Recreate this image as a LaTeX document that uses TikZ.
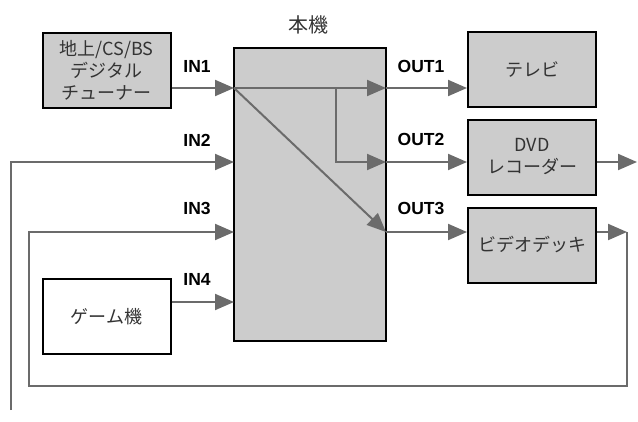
\documentclass[tikz,border=0pt]{standalone}
\usepackage{fontspec}
\setmainfont{Noto Sans CJK JP}
\newfontfamily\labfont{Liberation Sans}
\usepackage{tikz}
\usetikzlibrary{arrows.meta,positioning,calc}
\definecolor{boxgray}{HTML}{CCCCCC}
\definecolor{wire}{HTML}{6B6B6B}
\definecolor{ink}{HTML}{333333}

\begin{document}
\begin{tikzpicture}[
  x=1pt,y=-1pt,
  font=\fontsize{18}{22}\selectfont,
  dev/.style={draw=black,line width=2pt,fill=boxgray,text=ink,align=center,inner sep=0pt,minimum width=128pt,minimum height=75pt},
  ext/.style={dev,fill=white},
  unit/.style={draw=black,line width=2pt,fill=boxgray,inner sep=0pt,minimum width=152pt,minimum height=293pt},
  lab/.style={font=\labfont\bfseries\fontsize{17.5}{20}\selectfont,inner sep=0pt},
  sig/.style={-{Triangle[length=19pt,width=16pt]},draw=wire,line width=2pt}
]
\useasboundingbox (0,0) rectangle (638,421);
\node[unit] (main) at (310,194.5) {};
\node[text=ink,font=\fontsize{20}{24}\selectfont,inner sep=0pt] (title) at (308,25) {本機};
\node[dev] (tuner) at (106.5,70) {地上/CS/BS\\デジタル\\チューナー};
\node[ext] (game) at (106.5,316.5) {ゲーム機};
\node[dev] (tv) at (532,69.5) {テレビ};
\node[dev] (dvd) at (532,157) {DVD\\レコーダー};
\node[dev] (vcr) at (532,245) {ビデオデッキ};
% inputs and outputs on the unit
\coordinate (i1) at (234,88);
\coordinate (i2) at (234,162);
\coordinate (i3) at (234,232);
\coordinate (i4) at (234,302);
\coordinate (o1) at (386,88);
\coordinate (o2) at (386,162);
\coordinate (o3) at (386,232);
\coordinate (split) at (336,88);
\coordinate (tail) at (11,410);
\coordinate (dvdout) at (637,162);
\coordinate (loopR) at (627,232);
\coordinate (loopL) at (29,386);
\node[lab] (l1) at (197,66) {IN1};
\node[lab] (l2) at (197,140) {IN2};
\node[lab] (l3) at (197,208) {IN3};
\node[lab] (l4) at (197,279) {IN4};
\node[lab] (m1) at (421,66) {OUT1};
\node[lab] (m2) at (421,139) {OUT2};
\node[lab] (m3) at (421,208) {OUT3};
\draw[sig] (tuner.east |- i1) -- (i1);
\draw[sig] (tail) |- (i2);
\draw[sig] (game.east |- i4) -- (i4);
\draw[sig] (i1) -- (o1);
\draw[sig] (split) |- (o2);
\draw[sig] (i1) -- (o3);
\draw[sig] (o1) -- (tv.west |- o1);
\draw[sig] (o2) -- (dvd.west |- o2);
\draw[sig] (o3) -- (vcr.west |- o3);
\draw[sig] (dvd.east |- o2) -- (dvdout);
\draw[sig] (vcr.east |- o3) -- (loopR);
\draw[sig] (loopR) |- (loopL) |- (i3);
\end{tikzpicture}
\end{document}
